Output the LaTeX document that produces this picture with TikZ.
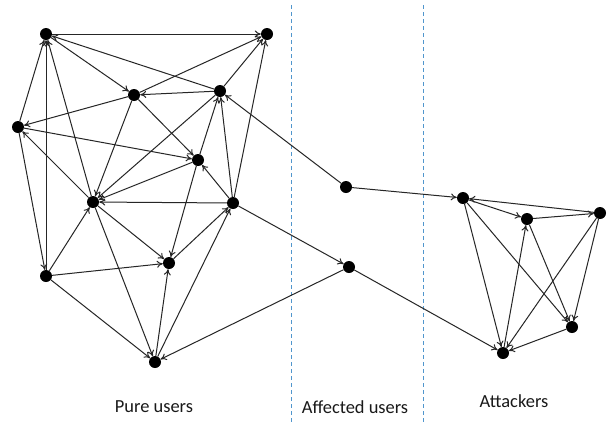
\documentclass[tikz,border=0pt]{standalone}
\usepackage{fontspec}
\setmainfont{Carlito}
\usetikzlibrary{arrows.meta}

\begin{document}
\begin{tikzpicture}[x=1bp,y=-1bp]

\tikzset{vertex/.style = {shape=circle,fill=black,inner sep=0pt,minimum size=12bp}}
\tikzset{edge/.style = {-{To[length=6bp,width=7bp]},line width=1bp,black!85}}
\tikzset{border/.style = {dashed,dash pattern=on 4bp off 3bp,line width=0.9bp,color={rgb,255:red,80;green,150;blue,205}}}
\tikzset{group/.style = {font=\fontsize{18.5}{21}\selectfont,text=black!90}}

\useasboundingbox[fill=white] (0,0) rectangle (607,426);

% borders
\coordinate (b1top) at (291,5);
\coordinate (b1bot) at (291,422);
\coordinate (b2top) at (423,5);
\coordinate (b2bot) at (423,422);
\draw[border] (b1top) -- (b1bot);
\draw[border] (b2top) -- (b2bot);

% vertices
\node[vertex] (1) at (46,34) {};
\node[vertex] (2) at (267,34) {};
\node[vertex] (3) at (134,95) {};
\node[vertex] (4) at (220,91) {};
\node[vertex] (5) at (18,127) {};
\node[vertex] (6) at (198,160) {};
\node[vertex] (7) at (93,202) {};
\node[vertex] (8) at (233,203) {};
\node[vertex] (9) at (169,263) {};
\node[vertex] (10) at (46,276) {};
\node[vertex] (11) at (155,362) {};
\node[vertex] (12) at (346,187) {};
\node[vertex] (13) at (349,267) {};
\node[vertex] (14) at (463,198) {};
\node[vertex] (15) at (527,219) {};
\node[vertex] (16) at (600,213) {};
\node[vertex] (17) at (572,327) {};
\node[vertex] (18) at (503,353) {};

%edges
\draw[edge] (1) -- (2);
\draw[edge] (1) -- (3);
\draw[edge] (4) -- (1);
\draw[edge] (3) -- (2);
\draw[edge] (4) -- (2);
\draw[edge] (8) -- (2);
\draw[edge] (4) -- (3);
\draw[edge] (5) -- (1);
\draw[edge] (3) -- (5);
\draw[edge] (7) -- (5);
\draw[edge] (5) -- (6);
\draw[edge] (10) -- (1);
\draw[edge] (7) -- (1);
\draw[edge] (5) -- (10);
\draw[edge] (3) -- (7);
\draw[edge] (3) -- (6);
\draw[edge] (4) -- (7);
\draw[edge] (6) -- (4);
\draw[edge] (8) -- (4);
\draw[edge] (12) -- (4);
\draw[edge] (6) -- (7);
\draw[edge] (6) -- (9);
\draw[edge] (8) -- (6);
\draw[edge] (8) -- (7);
\draw[edge] (10) -- (7);
\draw[edge] (10) -- (9);
\draw[edge] (10) -- (11);
\draw[edge] (7) -- (9);
\draw[edge] (7) -- (11);
\draw[edge] (11) -- (9);
\draw[edge] (9) -- (8);
\draw[edge] (11) -- (8);
\draw[edge] (8) -- (13);
\draw[edge] (13) -- (11);
\draw[edge] (13) -- (18);
\draw[edge] (12) -- (14);
\draw[edge] (16) -- (14);
\draw[edge] (14) -- (15);
\draw[edge] (15) -- (16);
\draw[edge] (14) -- (18);
\draw[edge] (14) -- (17);
\draw[edge] (18) -- (15);
\draw[edge] (15) -- (17);
\draw[edge] (16) -- (18);
\draw[edge] (16) -- (17);
\draw[edge] (17) -- (18);

% groups
\node[group] (pure) at (154,407) {Pure users};
\node[group] (affected) at (355,407) {Affected users};
\node[group] (attackers) at (514,401) {Attackers};
\end{tikzpicture}
\end{document}
